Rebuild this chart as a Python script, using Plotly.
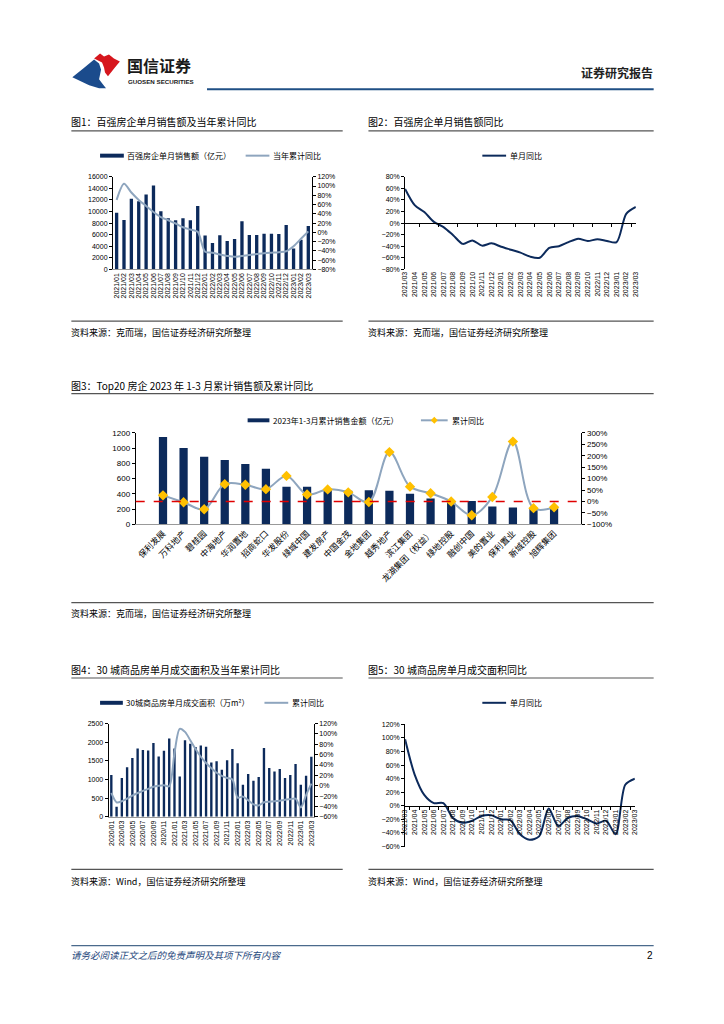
import plotly.graph_objects as go

W, H = 724, 1024


def px(x):
    return x / W


def py(y):
    return 1 - y / H


NUM = "Liberation Sans, Noto Sans CJK SC, sans-serif"
CJK = "Noto Sans CJK SC, sans-serif"
NAVY = "#0C2A5B"
GREY_LINE = "#8EA5BE"
GOLD = "#FFC000"

# ---------------- data ----------------
c1_months = ["2021/01", "2021/02", "2021/03", "2021/04", "2021/05", "2021/06", "2021/07",
             "2021/08", "2021/09", "2021/10", "2021/11", "2021/12", "2022/01", "2022/02",
             "2022/03", "2022/04", "2022/05", "2022/06", "2022/07", "2022/08", "2022/09",
             "2022/10", "2022/11", "2022/12", "2023/01", "2023/02", "2023/03"]
c1_sales = [9800, 8550, 12200, 11750, 12950, 14500, 10050, 8850, 8500, 8850, 8500, 10950,
            5830, 4570, 5880, 4900, 5250, 8330, 5930, 5930, 6150, 6150, 6100, 7650,
            3600, 5130, 7480]
c1_cum_yoy = [70, 105, 86, 70, 57, 44, 33, 26, 19, 11, 6, 1,
              -42, -44, -48, -51, -53, -51, -49, -47, -45, -44, -43, -41,
              -30, -14, 2]

c2_months = ["2021/03", "2021/04", "2021/05", "2021/06", "2021/07", "2021/08", "2021/09",
             "2021/10", "2021/11", "2021/12", "2022/01", "2022/02", "2022/03", "2022/04",
             "2022/05", "2022/06", "2022/07", "2022/08", "2022/09", "2022/10", "2022/11",
             "2022/12", "2023/01", "2023/02", "2023/03"]
c2_yoy = [59, 31, 19, 2, -7, -21, -36, -30, -39, -35, -41, -46, -51, -58, -60,
          -43, -40, -33, -27, -31, -28, -31, -33, 16, 28]

c3_companies = ["保利发展", "万科地产", "碧桂园", "中海地产", "华润置地", "招商蛇口", "华发股份",
                "绿城中国", "建发房产", "中国金茂", "金地集团", "越秀地产", "滨江集团",
                "龙湖集团（权益）", "绿地控股", "融创中国", "美的置业", "保利置业", "新城控股",
                "旭辉集团"]
c3_sales = [1145, 1003, 886, 843, 792, 730, 495, 495, 462, 442, 448, 442, 402, 338,
            292, 306, 234, 220, 216, 213]
c3_yoy = [27, -3, -34, 76, 73, 54, 112, 31, 53, 40, -2, 216, 65, 36, 0, -60, 20, 262,
          -29, -25]

c4_months = ["2020/01", "2020/02", "2020/03", "2020/04", "2020/05", "2020/06", "2020/07",
             "2020/08", "2020/09", "2020/10", "2020/11", "2020/12", "2021/01", "2021/02",
             "2021/03", "2021/04", "2021/05", "2021/06", "2021/07", "2021/08", "2021/09",
             "2021/10", "2021/11", "2021/12", "2022/01", "2022/02", "2022/03", "2022/04",
             "2022/05", "2022/06", "2022/07", "2022/08", "2022/09", "2022/10", "2022/11",
             "2022/12", "2023/01", "2023/02", "2023/03"]
c4_area = [1120, 270, 1040, 1330, 1580, 1830, 1790, 1780, 1980, 1620, 1770, 2100,
           1830, 1080, 2057, 1960, 1870, 1915, 1880, 1455, 1490, 1260, 1520, 1820,
           1440, 860, 1150, 965, 1070, 1845, 1310, 1215, 1285, 1040, 1120, 1415,
           860, 1100, 1610]
c4_cum_yoy = [-14, -32, -30, -25, -19, -14, -10, -6, -2, 0, 1, -1,
              63, 110, 104, 88, 71, 56, 44, 34, 25, 19, 15, 12,
              -23, -21, -28, -36, -38, -32, -31, -30, -29, -27, -26, -25,
              -42, -18, 4]
c4_tick_labels = ["2020/01", "2020/03", "2020/05", "2020/07", "2020/09", "2020/11",
                  "2021/01", "2021/03", "2021/05", "2021/07", "2021/09", "2021/11",
                  "2022/01", "2022/03", "2022/05", "2022/07", "2022/09", "2022/11",
                  "2023/01", "2023/03"]

c5_months = c2_months
c5_yoy = [98, 46, 16, 4, 4, -18, -25, -22, -15, -14, -20, -21, -42, -50, -45,
          -4, -30, -18, -15, -20, -26, -22, -42, 31, 40]

# ---------------- traces ----------------
fig = go.Figure()

fig.add_trace(go.Bar(x=c1_months, y=c1_sales, xaxis="x", yaxis="y", width=0.45,
                     marker=dict(color=NAVY, line=dict(width=0)), showlegend=False,
                     name="百强房企单月销售额（亿元）"))
fig.add_trace(go.Scatter(x=c1_months, y=c1_cum_yoy, xaxis="x", yaxis="y2", mode="lines",
                         line=dict(color=GREY_LINE, width=2, shape="spline", smoothing=0.8),
                         showlegend=False, name="当年累计同比"))

fig.add_trace(go.Scatter(x=c2_months, y=c2_yoy, xaxis="x2", yaxis="y3", mode="lines",
                         line=dict(color=NAVY, width=2, shape="spline", smoothing=0.8),
                         showlegend=False, name="单月同比"))
fig.add_trace(go.Scatter(x=c2_months, y=c2_yoy, xaxis="x6", yaxis="y3", mode="lines",
                         line=dict(color=NAVY, width=0), hoverinfo="skip",
                         showlegend=False))

fig.add_trace(go.Bar(x=c3_companies, y=c3_sales, xaxis="x3", yaxis="y4", width=0.4,
                     marker=dict(color=NAVY, line=dict(width=0)), showlegend=False,
                     name="2023年1-3月累计销售金额（亿元）"))
fig.add_trace(go.Scatter(x=c3_companies, y=c3_yoy, xaxis="x3", yaxis="y5",
                         mode="lines+markers",
                         line=dict(color=GREY_LINE, width=2, shape="spline", smoothing=1.0),
                         marker=dict(symbol="diamond", size=8, color=GOLD),
                         showlegend=False, name="累计同比"))

fig.add_trace(go.Bar(x=c4_months, y=c4_area, xaxis="x4", yaxis="y6", width=0.45,
                     marker=dict(color=NAVY, line=dict(width=0)), showlegend=False,
                     name="30城商品房单月成交面积（万m²）"))
fig.add_trace(go.Scatter(x=c4_months, y=c4_cum_yoy, xaxis="x4", yaxis="y7", mode="lines",
                         line=dict(color=GREY_LINE, width=2, shape="spline", smoothing=0.8),
                         showlegend=False, name="累计同比"))

fig.add_trace(go.Scatter(x=c5_months, y=c5_yoy, xaxis="x5", yaxis="y8", mode="lines",
                         line=dict(color=NAVY, width=2, shape="spline", smoothing=0.8),
                         showlegend=False, name="单月同比"))


# ---------------- axes ----------------
def yax(domain, rng, dtick, anchor, suffix="", side="left", overlay=None, size=7):
    d = dict(domain=domain, range=rng, dtick=dtick, anchor=anchor, side=side,
             showgrid=False, zeroline=False, showline=True, linecolor="#000",
             linewidth=1, ticks="outside", ticklen=3, tickcolor="#000",
             ticksuffix=suffix, tickformat="d",
             tickfont=dict(family=NUM, size=size, color="#000"))
    if overlay:
        d["overlaying"] = overlay
        d.pop("domain")
    return d


def xax(domain, anchor, cats, angle=-90, size=7, family=NUM, line=True):
    return dict(domain=domain, anchor=anchor, type="category", tickangle=angle,
                tickmode="array", tickvals=cats, ticktext=cats,
                showgrid=False, zeroline=False, showline=line, linecolor="#999",
                linewidth=1, ticks="", tickfont=dict(family=family, size=size, color="#000"))


d1y = [py(267.7), py(174.3)]
d2y = [py(267.7), py(174.3)]
d3y = [py(525), py(432.7)]
d4y = [py(820), py(726)]
d5y = [py(850), py(726.7)]

layout = dict(
    width=W, height=H, autosize=False,
    margin=dict(l=0, r=0, t=0, b=0),
    paper_bgcolor="white", plot_bgcolor="rgba(0,0,0,0)",
    showlegend=False,
    font=dict(family=NUM, size=8, color="#000"),
    xaxis=xax([px(110), px(311)], "y", c1_months),
    yaxis=yax(d1y, [0, 16000], 2000, "x"),
    yaxis2=yax(None, [-80, 120], 20, "x", "%", "right", "y"),
    xaxis2=xax([px(405), px(638)], "y3", c2_months, line=False),
    yaxis3=dict(yax(d2y, [-80, 80], 20, "x2", "%")),
    xaxis6=dict(domain=[px(405), px(638)], anchor="free", position=(d2y[0] + d2y[1]) / 2,
                overlaying="x2", type="category", showgrid=False, zeroline=False,
                showline=True, linecolor="#000", linewidth=1.2, ticks="outside",
                ticklen=3, tickcolor="#000", tickson="boundaries", showticklabels=False),
    xaxis3=xax([px(133), px(583)], "y4", c3_companies, angle=-45, size=8.5, family=CJK),
    yaxis4=yax(d3y, [0, 1200], 200, "x3", size=8),
    yaxis5=yax(None, [-100, 300], 50, "x3", "%", "right", "y4", size=8),
    xaxis4=xax([px(105.7), px(313)], "y6", c4_tick_labels),
    yaxis6=yax(d4y, [0, 2500], 500, "x4"),
    yaxis7=yax(None, [-60, 120], 20, "x4", "%", "right", "y6"),
    xaxis5=dict(domain=[px(405), px(637)], anchor="free",
                position=d5y[0] + (d5y[1] - d5y[0]) / 3,
                type="category", tickangle=-90, showgrid=False, zeroline=False,
                tickmode="array", tickvals=c5_months, ticktext=c5_months,
                showline=True, linecolor="#000", linewidth=1.2, ticks="outside",
                ticklen=3, tickcolor="#000", tickson="boundaries",
                tickfont=dict(family=NUM, size=7, color="#000")),
    yaxis8=yax(d5y, [-60, 120], 20, "x5", "%"),
)
fig.update_layout(**layout)

# ---------------- page furniture ----------------
shapes = []
ann = []


def hline(x0, x1, y, color="#555", width=1.2, dash=None):
    ln = dict(color=color, width=width)
    if dash:
        ln["dash"] = dash
    shapes.append(dict(type="line", xref="paper", yref="paper", x0=px(x0), x1=px(x1),
                       y0=py(y), y1=py(y), line=ln))


def text(x, y, s, size=9, anchor="left", color="#000", family=CJK):
    ann.append(dict(xref="paper", yref="paper", x=px(x), y=py(y), text=s, showarrow=False,
                    xanchor=anchor, yanchor="middle", borderpad=0,
                    font=dict(family=family, size=size, color=color)))


def path(points, color):
    s = "M " + " L ".join(f"{px(a):.5f},{py(b):.5f}" for a, b in points) + " Z"
    shapes.append(dict(type="path", xref="paper", yref="paper", path=s,
                       fillcolor=color, line=dict(width=0)))


# logo
path([(69, 74), (80, 65), (91, 56), (96, 60), (98, 66), (97, 71), (96, 76), (99, 80),
      (103, 85), (96, 85), (86, 82)], "#1B4B8C")
path([(91, 55), (97, 50), (101, 53), (106, 51), (111, 55), (117, 58), (112, 64),
      (105, 73), (102, 69), (101, 64), (99, 59)], "#D6161D")
text(123, 62, "<b>国信证券</b>", size=16, color="#1a1a1a")
text(124, 78, "<b>GUOSEN SECURITIES</b>", size=6.2, color="#1a1a1a", family=NUM)
text(656, 69, "<b>证券研究报告</b>", size=12, anchor="right", color="#222")
hline(205, 656, 86, color="#1F4F85", width=2.2)

# figure titles
text(67, 119, "图1：百强房企单月销售额及当年累计同比", size=10)
text(367, 119, "图2：百强房企单月销售额同比", size=10)
hline(68, 342, 128)
hline(368, 656, 128)
text(67, 385, "图3：Top20 房企 2023 年 1-3 月累计销售额及累计同比", size=10)
hline(68, 656, 393)
text(67, 671, "图4：30 城商品房单月成交面积及当年累计同比", size=10)
text(367, 671, "图5：30 城商品房单月成交面积同比", size=10)
hline(68, 342, 680)
hline(368, 656, 680)

# sources
hline(68, 342, 320)
hline(368, 656, 320)
text(67, 331, "资料来源：克而瑞，国信证券经济研究所整理", size=9)
text(367, 331, "资料来源：克而瑞，国信证券经济研究所整理", size=9)
hline(68, 656, 604)
text(67, 615, "资料来源：克而瑞，国信证券经济研究所整理", size=9)
hline(68, 342, 873)
hline(368, 656, 873)
text(67, 885, "资料来源：Wind，国信证券经济研究所整理", size=9)
text(367, 885, "资料来源：Wind，国信证券经济研究所整理", size=9)

# footer
hline(68, 656, 950, color="#4A6A8C", width=1.2)
text(67, 959, "<i>请务必阅读正文之后的免责声明及其项下所有内容</i>", size=9.5, color="#1F497D")
text(656, 960, "2", size=10, anchor="right", family=NUM)


# legends
def bar_swatch(x0, x1, y):
    shapes.append(dict(type="rect", xref="paper", yref="paper", x0=px(x0), x1=px(x1),
                       y0=py(y + 2), y1=py(y - 2), fillcolor=NAVY, line=dict(width=0)))


def line_swatch(x0, x1, y, color):
    shapes.append(dict(type="line", xref="paper", yref="paper", x0=px(x0), x1=px(x1),
                       y0=py(y), y1=py(y), line=dict(color=color, width=2)))


bar_swatch(97, 121, 153)
text(123, 153, "百强房企单月销售额（亿元）", size=8)
line_swatch(244, 268, 153, GREY_LINE)
text(271, 153, "当年累计同比", size=8)

line_swatch(483, 507, 153, NAVY)
text(510, 153, "单月同比", size=8)

bar_swatch(246, 268, 420)
text(271, 420, "2023年1-3月累计销售金额（亿元）", size=8)
line_swatch(421, 448, 420, GREY_LINE)
path([(434.5, 416.5), (438, 420), (434.5, 423.5), (431, 420)], GOLD)
text(451, 420, "累计同比", size=8)

bar_swatch(97, 120, 705)
text(122, 705, "30城商品房单月成交面积（万m²）", size=8)
line_swatch(263, 287, 705, GREY_LINE)
text(290, 705, "累计同比", size=8)

line_swatch(483, 507, 705, NAVY)
text(510, 705, "单月同比", size=8)

# red dashed zero line in chart 3
shapes.append(dict(type="line", xref="x3 domain", yref="y5", x0=0, x1=1, y0=0, y1=0,
                   line=dict(color="#E00000", width=1.5, dash="dash")))

fig.update_layout(shapes=shapes, annotations=ann)
fig.write_html("out.html",
               config={"displayModeBar": False},
               post_script="document.body.style.margin='0';"
                           "document.body.style.overflow='hidden';")
